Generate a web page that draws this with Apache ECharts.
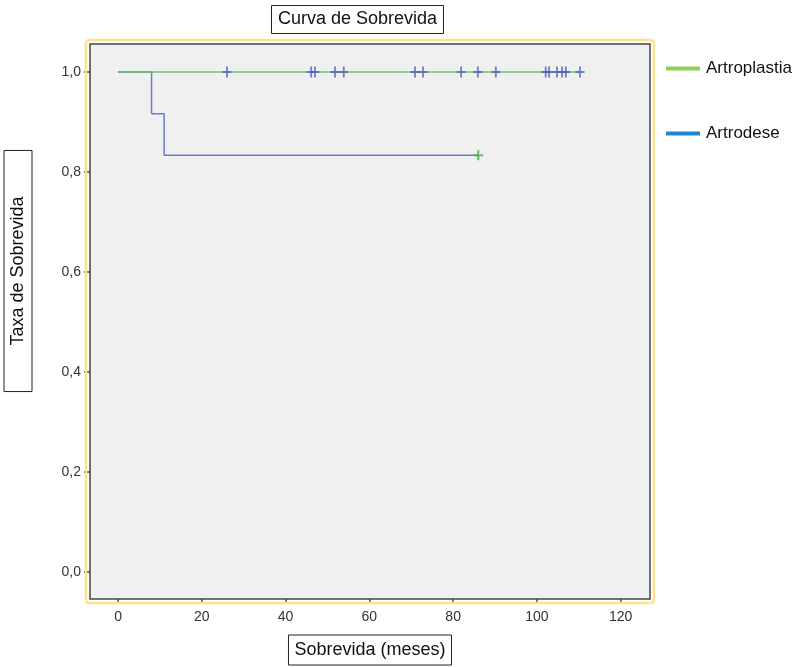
<!DOCTYPE html>
<html>
<head>
<meta charset="utf-8">
<title>Curva de Sobrevida</title>
<script src="https://cdn.jsdelivr.net/npm/echarts@6/dist/echarts.min.js"></script>
<style>
  html, body { margin: 0; padding: 0; background: #fff; }
  #chart { width: 800px; height: 667px; }
</style>
</head>
<body>
<div id="chart"></div>
<script>
// tick labels
const xTicks = [0, 20, 40, 60, 80, 100, 120]
const yTicks = [0, 0.2, 0.4, 0.6, 0.8, 1.0]

// Artroplastia: no events, censored times (months)
const artroplastiaEnd = 110.3
const artroplastiaCensor = [26, 46.1, 47, 51.8, 53.9, 70.9, 72.8, 81.9, 85.9, 90.2,
  102.1, 102.9, 104.8, 106, 106.9, 110.3]

// Artrodese: event times and survival after each event
const artrodeseEvents = [8, 11]
const artrodeseSurv = [0.9167, 0.8333]
const artrodeseEnd = 86
const artrodeseCensor = [86]

// build step curve from events
function kmSteps(events, surv, end) {
  const pts = [[0, 1]]
  let s = 1
  events.forEach((t, i) => {
    pts.push([t, s])
    s = surv[i]
    pts.push([t, s])
  })
  pts.push([end, s])
  return pts
}

const artrodeseLine = kmSteps(artrodeseEvents, artrodeseSurv, artrodeseEnd)
const artroplastiaLine = kmSteps([], [], artroplastiaEnd)
const lastSurv = artrodeseSurv[artrodeseSurv.length - 1]

const plus = 'path://M-0.9,-5.5H0.9V-0.9H4.5V0.9H0.9V5.5H-0.9V0.9H-4.5V-0.9H-0.9Z'
const font = '"Liberation Sans", Arial, sans-serif'

const chart = echarts.init(document.getElementById('chart'))
chart.setOption({
  animation: false,
  textStyle: { fontFamily: font },
  title: {
    text: 'Curva de Sobrevida',
    left: 271,
    top: 5,
    padding: [5, 7, 6, 7],
    borderColor: '#222',
    borderWidth: 1,
    textStyle: { fontSize: 18, fontWeight: 'normal', color: '#111', fontFamily: font }
  },
  legend: {
    orient: 'vertical',
    left: 661,
    top: 55,
    itemWidth: 34,
    itemHeight: 4,
    itemGap: 48,
    icon: 'rect',
    selectedMode: false,
    textStyle: { fontSize: 17, color: '#111', fontFamily: font, padding: [0, 0, 0, 1] },
    data: [
      { name: 'Artroplastia', itemStyle: { color: '#92cf5a' } },
      { name: 'Artrodese', itemStyle: { color: '#1f86cf' } }
    ]
  },
  graphic: [
    {
      type: 'rect',
      shape: { x: 86, y: 40, width: 568, height: 563, r: 3 },
      style: { fill: 'none', stroke: '#fde48c', lineWidth: 2.5 },
      z: 100
    },
    {
      // y axis title, boxed and placed above the axis middle like the original
      type: 'text',
      x: 18,
      y: 271,
      rotation: Math.PI / 2,
      style: {
        text: 'Taxa de Sobrevida',
        font: '18px ' + font,
        fill: '#111',
        align: 'center',
        verticalAlign: 'middle',
        borderColor: '#222',
        borderWidth: 1,
        padding: [5, 46, 5, 46]
      }
    }
  ],
  grid: {
    left: 90, top: 44, right: 150, bottom: 68,
    outerBoundsMode: 'none',
    containLabel: false,
    show: true,
    backgroundColor: '#f0f0f0',
    borderColor: '#444',
    borderWidth: 1.5
  },
  xAxis: {
    type: 'value',
    min: -6.7,
    max: 127,
    name: 'Sobrevida (meses)',
    nameLocation: 'middle',
    nameGap: 36,
    nameTextStyle: {
      fontSize: 18, color: '#111', fontFamily: font,
      borderColor: '#222', borderWidth: 1, padding: [6, 6, 6, 6]
    },
    axisLine: { show: false, onZero: false },
    splitLine: { show: false },
    axisTick: { show: true, customValues: xTicks, length: 5, lineStyle: { color: '#444', width: 1.5 } },
    axisLabel: { customValues: xTicks, fontSize: 14, color: '#333', fontFamily: font, margin: 11 }
  },
  yAxis: {
    type: 'value',
    min: -0.054,
    max: 1.056,
    axisLine: { show: false, onZero: false },
    splitLine: { show: false },
    axisTick: { show: true, customValues: yTicks, length: 6, lineStyle: { color: '#444', width: 1.5 } },
    axisLabel: {
      customValues: yTicks, fontSize: 14, color: '#333', fontFamily: font, margin: 9,
      formatter: v => v.toFixed(1).replace('.', ',')
    }
  },
  series: [
    {
      name: 'Artrodese',
      type: 'line',
      data: artrodeseLine,
      symbol: 'none',
      lineStyle: { color: '#6a7bcb', width: 1.5 },
      itemStyle: { color: '#1f86cf' }
    },
    {
      name: 'Artroplastia',
      type: 'line',
      data: artroplastiaLine,
      symbol: 'none',
      lineStyle: { color: '#6cc26c', width: 1.5 },
      itemStyle: { color: '#92cf5a' }
    },
    {
      type: 'scatter',
      data: artroplastiaCensor.map(t => [t, 1]),
      symbol: plus,
      symbolSize: [9, 11],
      itemStyle: { color: '#5062c0' },
      z: 3
    },
    {
      type: 'scatter',
      data: artrodeseCensor.map(t => [t, lastSurv]),
      symbol: plus,
      symbolSize: [10, 10],
      itemStyle: { color: '#2fb52f' },
      z: 3
    }
  ]
})
</script>
</body>
</html>
